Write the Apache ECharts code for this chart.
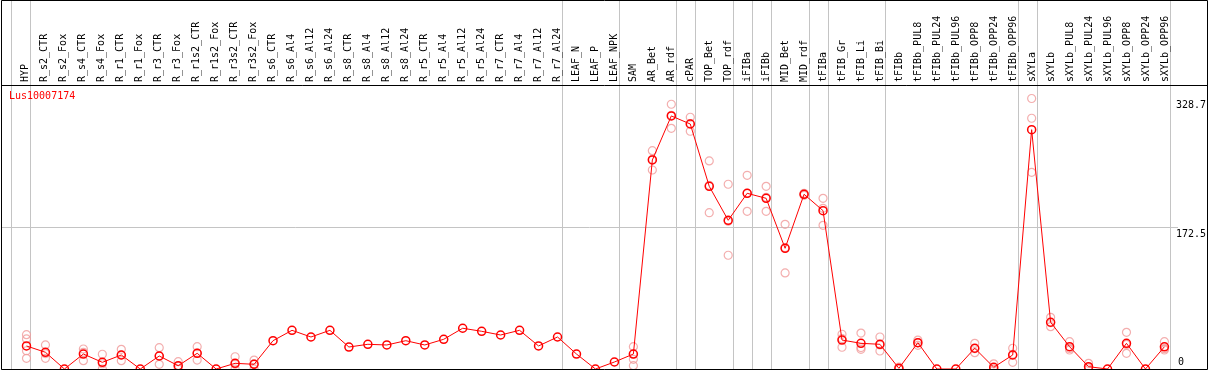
<!DOCTYPE html>
<html>
<head>
<meta charset="utf-8">
<script src="https://cdn.jsdelivr.net/npm/echarts@6/dist/echarts.min.js"></script>
<style>
html,body{margin:0;padding:0;background:#fff;}
#chart{width:1209px;height:370px;}
</style>
</head>
<body>
<div id="chart"></div>
<script>
const categories = ["HYP","R_s2_CTR","R_s2_Fox","R_s4_CTR","R_s4_Fox","R_r1_CTR","R_r1_Fox","R_r3_CTR","R_r3_Fox","R_r1s2_CTR","R_r1s2_Fox","R_r3s2_CTR","R_r3s2_Fox","R_s6_CTR","R_s6_Al4","R_s6_Al12","R_s6_Al24","R_s8_CTR","R_s8_Al4","R_s8_Al12","R_s8_Al24","R_r5_CTR","R_r5_Al4","R_r5_Al12","R_r5_Al24","R_r7_CTR","R_r7_Al4","R_r7_Al12","R_r7_Al24","LEAF_N","LEAF_P","LEAF_NPK","SAM","AR_Bet","AR_rdf","cPAR","TOP_Bet","TOP_rdf","iFIBa","iFIBb","MID_Bet","MID_rdf","tFIBa","tFIB_Gr","tFIB_Li","tFIB_Bi","tFIBb","tFIBb_PUL8","tFIBb_PUL24","tFIBb_PUL96","tFIBb_OPP8","tFIBb_OPP24","tFIBb_OPP96","sXYLa","sXYLb","sXYLb_PUL8","sXYLb_PUL24","sXYLb_PUL96","sXYLb_OPP8","sXYLb_OPP24","sXYLb_OPP96"];

const meanValues = [28.0,20.3,0,18.2,8.1,17.0,0,15.8,4.0,19.1,0,6.9,5.7,34.4,47.0,38.9,47.0,26.7,30.0,29.2,34.4,29.2,36.1,49.5,45.8,41.3,47.0,28.0,38.9,18.2,0,8.5,18.2,254.0,307.5,297.7,222.0,180.7,213.5,207.4,146.7,212.3,192.4,35.2,31.2,30.0,0.8,32.0,0,0,25.2,2.1,17.0,290.8,56.8,27.1,2.8,0,31.2,0,27.0];

const repA = [41.7,29.2,null,24.3,17.9,23.9,null,25.9,8.9,27.1,null,14.9,10.9,null,null,null,null,null,null,null,null,null,null,null,null,null,null,null,null,null,null,null,27.1,265.3,321.7,305.9,252.8,224.5,235.4,222.0,175.8,213.5,207.4,42.2,43.7,38.9,2.4,35.2,null,null,31.2,6.3,25.2,328.7,62.8,33.2,6.9,null,44.6,null,33.2];
const repB = [36.5,18.7,null,20.2,6.4,17.0,null,15.8,3.1,19.3,null,5.8,6.2,null,null,null,null,null,null,null,null,null,null,null,null,null,null,null,null,null,null,null,18.2,254.9,308.3,298.3,223.3,179.4,213.5,208.6,147.6,212.3,195.2,37.0,26.0,29.2,0,32.0,null,null,24.6,0,17.7,304.7,56.2,25.0,1.5,null,29.9,null,24.7];
const repC = [22.2,13.0,null,10.1,0,10.1,null,5.7,0,10.9,null,0,0,null,null,null,null,null,null,null,null,null,null,null,null,null,null,null,null,null,null,null,11.8,241.8,292.5,288.9,189.9,138.2,191.6,191.6,116.7,211.1,174.6,26.4,23.9,21.9,0,28.8,null,null,19.8,0,8.1,239.0,51.4,23.1,0,null,19.1,null,23.1];
const repD = [13.0,null,null,null,null,null,null,null,null,null,null,null,null,null,null,null,null,null,null,null,null,null,null,null,null,null,null,null,null,null,null,null,4.0,null,null,null,null,null,null,null,null,null,null,null,null,null,null,null,null,null,null,null,null,null,null,null,null,null,null,null,null];

// category indices where a new group starts (vertical separators)
const groupStarts = [0,1,29,32,35,36,38,39,40,42,43,46,53,54];

const seriesName = "Lus10007174";
const yMax = 345.1;
const gridValue = 172.5;
const topLabel = 328.7;

const replicatePoints = [];
[repA, repB, repC, repD].forEach(arr => {
  arr.forEach((v, i) => { if (v !== null) replicatePoints.push([categories[i], v]); });
});

const FONT = "'DejaVu Sans Mono', 'Liberation Mono', monospace";
const GRID_LEFT = 11, BAND = 19, N = categories.length;
const PLOT_W = BAND * N;
const sepInterval = (idx) => groupStarts.indexOf(idx) >= 0;
const gray = '#c4c4c4';

const chart = echarts.init(document.getElementById('chart'), null, {renderer: 'canvas'});
chart.setOption({
  animation: false,
  backgroundColor: '#fff',
  title: {
    text: seriesName, left: 9, top: 91, padding: 0,
    textStyle: {color: '#ff0000', fontSize: 10, fontWeight: 'normal', fontFamily: FONT}
  },
  grid: [
    {left: GRID_LEFT, width: PLOT_W, top: 0, height: 85, containLabel: false},
    {left: GRID_LEFT, width: PLOT_W, top: 85, height: 284, containLabel: false},
    {left: 1, right: 31, top: 85, height: 284, containLabel: false},
    {left: 17, width: PLOT_W, top: 85, height: 284, containLabel: false}
  ],
  xAxis: [
    {gridIndex: 0, type: 'category', data: categories, position: 'bottom', boundaryGap: true,
     axisLine: {show: false}, axisTick: {show: false},
     axisLabel: {show: true, inside: true, rotate: 90, interval: 0, margin: 3, verticalAlign: 'top',
                 color: '#000', fontSize: 10, fontFamily: FONT},
     splitLine: {show: true, interval: sepInterval, lineStyle: {color: gray, width: 1}}},
    {gridIndex: 1, type: 'category', data: categories, boundaryGap: true,
     axisLine: {show: false}, axisTick: {show: false}, axisLabel: {show: false},
     splitLine: {show: true, interval: sepInterval, lineStyle: {color: gray, width: 1}}},
    {gridIndex: 2, type: 'value', min: 0, max: 1, show: false},
    {gridIndex: 3, type: 'category', data: categories, boundaryGap: true, show: false}
  ],
  yAxis: [
    {gridIndex: 0, type: 'value', min: 0, max: 1, show: false},
    {gridIndex: 1, type: 'value', min: 0, max: 1, show: false},
    {gridIndex: 2, type: 'value', min: 0, max: yMax, interval: gridValue,
     axisLine: {show: false}, axisTick: {show: false}, axisLabel: {show: false},
     splitLine: {show: true, lineStyle: {color: gray, width: 1}}},
    {gridIndex: 3, type: 'value', min: 0, max: yMax, position: 'right',
     axisLine: {show: false}, axisTick: {show: false}, splitLine: {show: false},
     axisLabel: {show: true, customValues: [gridValue, topLabel], margin: 2, align: 'left', verticalAlign: 'top',
                 padding: [2, 0, 0, 0], color: '#000', fontSize: 10, fontFamily: FONT}},
    {gridIndex: 3, type: 'value', min: 0, max: yMax, position: 'right',
     axisLine: {show: false}, axisTick: {show: false}, splitLine: {show: false},
     axisLabel: {show: true, customValues: [0], margin: 4, align: 'left', verticalAlign: 'bottom',
                 padding: [0, 0, 2, 0], color: '#000', fontSize: 10, fontFamily: FONT}}
  ],
  series: [
    {type: 'scatter', name: 'replicates', xAxisIndex: 3, yAxisIndex: 3, data: replicatePoints,
     symbol: 'circle', symbolSize: 8, z: 3,
     itemStyle: {color: 'rgba(0,0,0,0)', borderColor: '#f09a9a', borderWidth: 1.2}},
    {type: 'line', name: seriesName, xAxisIndex: 3, yAxisIndex: 3, data: meanValues,
     symbol: 'circle', symbolSize: 8, showAllSymbol: true, z: 5,
     lineStyle: {color: '#ff0000', width: 1},
     itemStyle: {color: 'rgba(0,0,0,0)', borderColor: '#ff0000', borderWidth: 1.5}}
  ],
  graphic: [
    {type: 'rect', z: 100, silent: true, shape: {x: 1.5, y: 0.5, width: 1206, height: 369},
     style: {fill: null, stroke: '#000', lineWidth: 1}},
    {type: 'line', z: 100, silent: true, shape: {x1: 1, y1: 85.5, x2: 1208, y2: 85.5},
     style: {stroke: '#000', lineWidth: 1}}
  ]
});
</script>
</body>
</html>
